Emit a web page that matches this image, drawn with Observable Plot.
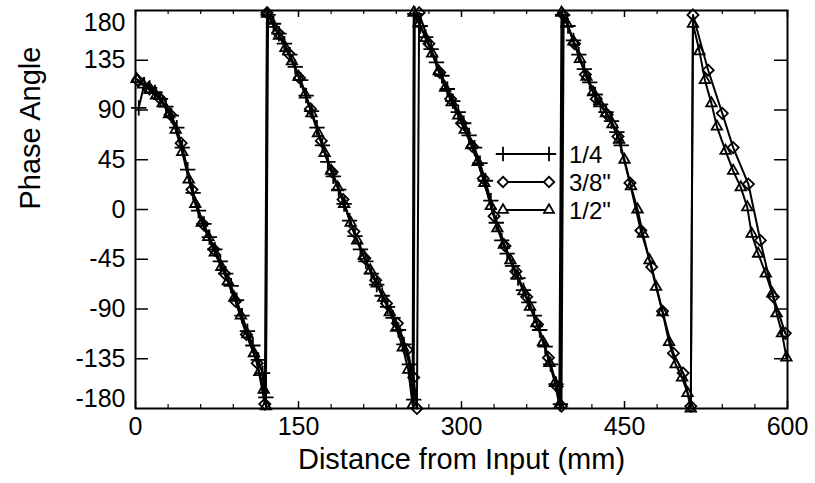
<!DOCTYPE html>
<html><head><meta charset="utf-8">
<script src="https://cdn.jsdelivr.net/npm/d3@7"></script>
<script src="https://cdn.jsdelivr.net/npm/@observablehq/plot@0.6"></script>
<style>
body{margin:0;background:#fff;}
#wrap{position:relative;width:815px;height:483px;font-family:"Liberation Sans",Arial,sans-serif;}
#wrap svg{display:block;}
#legend{position:absolute;left:0;top:0;pointer-events:none;}
</style></head><body><div id="wrap"></div>
<script>
// ---- data ----
const seriesNames = ["1/4", "3/8\"", "1/2\""];
const seriesSymbols = ["plus", "diamond2", "triangle2"];

const quarterDist = [3,8,13,18,23,28,33,38,43,48,53,58,63,68,73,78,83,88,93,98,103,108,113,117,120,
  122,127,132,137,142,147,152,157,162,167,172,177,182,187,192,197,202,207,212,217,222,227,232,237,242,247,252,256,
  257,262,267,272,277,282,287,292,297,302,307,312,317,322,327,332,337,342,347,352,357,362,367,372,377,382,387,391,
  393,398,403,408,413,418,423,428,433,438,443,447];
const quarterPhase = [92,113,110,106,100,93,85,74,56,36,15,-1,-13,-25,-36,-47,-58,-69,-82,-96,-110,-123,-136,-148,-170,
  176,168,159,150,140,129,117,103,89,74,58,43,30,18,5,-10,-24,-36,-47,-58,-68,-78,-88,-98,-109,-122,-140,-172,
  177,166,156,145,133,121,109,98,88,78,67,56,42,26,8,-12,-28,-40,-51,-62,-73,-84,-96,-109,-124,-140,-158,-176,
  176,166,153,140,127,115,104,95,88,80,70,58];

const threeEighthDist = [2,12,22,32,42,52,62,72,82,92,102,112,119,
  121,131,141,151,161,171,181,191,201,211,221,231,241,250,256,259,
  261,270,280,290,300,310,320,330,340,350,360,370,380,388,392,
  394,404,414,424,434,444,455,465,475,485,495,504,511,
  513,527,540,550,564,575,587,598];
const threeEighthPhase = [117,110,101,86,60,18,-13,-36,-58,-83,-113,-139,-176,
  178,160,141,119,91,62,34,9,-20,-44,-64,-85,-103,-127,-152,-180,
  178,150,124,100,78,57,28,-6,-33,-56,-79,-104,-134,-160,-178,
  176,150,122,100,86,66,24,-19,-52,-92,-130,-148,-178,
  176,126,87,56,23,-28,-79,-112];

const halfDist = [1,7,13,19,25,31,37,43,49,55,61,67,73,79,85,91,97,103,109,114,118,120,
  121,126,132,138,144,150,156,162,168,174,180,186,192,198,204,210,216,222,228,234,240,246,251,255,
  256,261,267,273,279,285,291,297,303,309,315,321,327,333,339,345,351,357,363,369,375,381,386,390,
  392,397,403,409,415,421,427,433,439,445,450,456,462,467,473,479,485,491,497,503,508,511,
  513,519,524,530,535,543,550,557,563,567,573,580,586,590,595,599];
const halfPhase = [118,113,108,103,96,86,72,52,27,5,-12,-25,-39,-52,-65,-80,-96,-113,-130,-147,-163,-178,
  177,168,157,146,134,120,104,87,69,51,35,20,5,-12,-28,-42,-55,-67,-80,-93,-107,-125,-145,-177,
  178,168,155,141,125,110,97,85,72,58,43,24,3,-17,-32,-46,-60,-74,-88,-103,-120,-139,-157,-177,
  178,168,152,136,120,106,96,87,77,63,45,21,0,-22,-46,-70,-93,-120,-140,-152,-166,-180,
  168,143,117,96,75,53,35,20,2,-22,-40,-58,-76,-94,-112,-134];

const xTicks = [0,150,300,450,600];
const xMinorTicks = [30,60,90,120,180,210,240,270,330,360,390,420,480,510,540,570];
const yTicks = [-135,-90,-45,0,45,90,135];
const yTopTick = [180];
const yBottomTick = [-180];

// ---- build table ----
function rows(xs, ys, name) { return xs.map((x, i) => ({dist: x, phase: ys[i], series: name})); }
const data = [
  ...rows(quarterDist, quarterPhase, seriesNames[0]),
  ...rows(threeEighthDist, threeEighthPhase, seriesNames[1]),
  ...rows(halfDist, halfPhase, seriesNames[2])
];

const W = 815, H = 483;
const mL = 135, mR = 28, mT = 10, mB = 75;
const pW = W - mL - mR, pH = H - mT - mB;
const font = "Liberation Sans, Arial, Helvetica, sans-serif";

const chart = Plot.plot({
  width: W, height: H,
  marginLeft: mL, marginRight: mR, marginTop: mT, marginBottom: mB,
  style: {fontFamily: font, fontSize: "25px", color: "black", background: "white", overflow: "visible"},
  x: {domain: [0, 600]},
  y: {domain: [-180, 180]},
  symbol: {domain: seriesNames, range: seriesSymbols},
  marks: [
    Plot.line(data, {x: "dist", y: "phase", z: "series", stroke: "black", strokeWidth: 2}),
    Plot.dot(data, {x: "dist", y: "phase", symbol: "series", r: 5, stroke: "black", fill: "none", strokeWidth: 1.8}),
    Plot.frame({stroke: "black", strokeWidth: 2}),
    // inward ticks
    Plot.ruleX(xMinorTicks, {x: d => d, insetTop: pH - 4, stroke: "black", strokeWidth: 1.2}),
    Plot.ruleX(xMinorTicks, {x: d => d, insetBottom: pH - 4, stroke: "black", strokeWidth: 1.2}),
    Plot.ruleX(xTicks, {x: d => d, insetTop: pH - 7, stroke: "black", strokeWidth: 1.5}),
    Plot.ruleX(xTicks, {x: d => d, insetBottom: pH - 7, stroke: "black", strokeWidth: 1.5}),
    Plot.ruleY(yTicks, {y: d => d, insetRight: pW - 13, stroke: "black", strokeWidth: 1.5}),
    Plot.ruleY(yTicks, {y: d => d, insetLeft: pW - 13, stroke: "black", strokeWidth: 1.5}),
    // tick labels
    Plot.axisX(xTicks, {tickSize: 0, tickPadding: 9, fontSize: 25, label: null, tickFormat: d => String(d)}),
    Plot.axisY(yTicks, {tickSize: 0, tickPadding: 10, fontSize: 25, label: null, tickFormat: d => String(d)}),
    Plot.axisY(yTopTick, {tickSize: 0, tickPadding: 10, fontSize: 25, label: null, dy: 12, tickFormat: d => String(d)}),
    Plot.axisY(yBottomTick, {tickSize: 0, tickPadding: 10, fontSize: 25, label: null, dy: -10, tickFormat: d => String(d)}),
    // axis titles
    Plot.text(["Distance from Input (mm)"], {text: d => d, frameAnchor: "bottom", dy: 60, fontSize: 29, fill: "black"}),
    Plot.text(["Phase Angle"], {text: d => d, frameAnchor: "left", dx: -105, rotate: -90, fontSize: 29, fill: "black"})
  ]
});

const wrap = document.getElementById("wrap");
wrap.appendChild(chart);

// ---- legend overlay ----
const legend = d3.select(wrap).append("svg")
  .attr("id", "legend").attr("width", W).attr("height", H)
  .style("font-family", font);
const legendY = [154, 182, 210];
const symTypes = [d3.symbolPlus, d3.symbolDiamond2, d3.symbolTriangle2];
seriesNames.forEach((name, i) => {
  const g = legend.append("g").attr("transform", `translate(0,${legendY[i]})`);
  g.append("line").attr("x1", 503).attr("x2", 549).attr("y1", 0).attr("y2", 0)
    .attr("stroke", "black").attr("stroke-width", 2);
  [503, 549].forEach(px => {
    g.append("path").attr("d", d3.symbol(symTypes[i], 70)())
      .attr("transform", `translate(${px},0)`)
      .attr("fill", "white").attr("stroke", "black").attr("stroke-width", 1.8);
  });
  g.append("text").attr("x", 569).attr("y", 0).attr("dy", "0.36em")
    .attr("font-size", 24).attr("fill", "black").text(name);
});
</script>
</body></html>
